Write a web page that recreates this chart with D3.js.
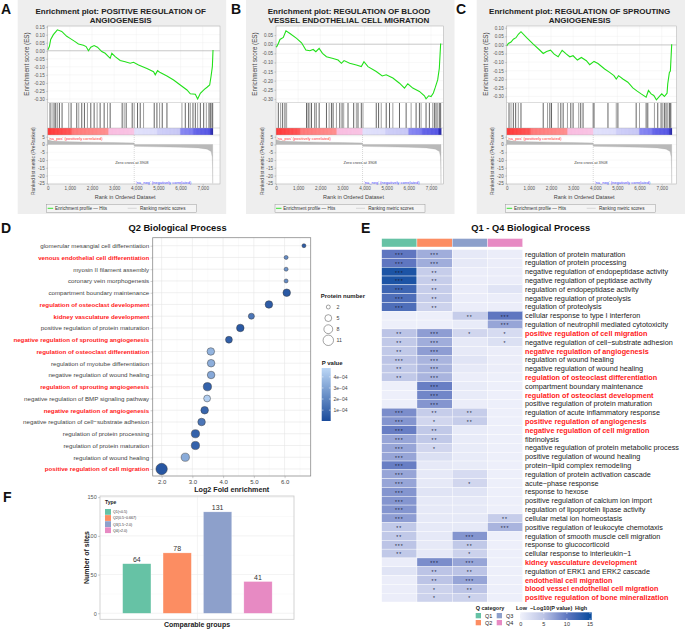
<!DOCTYPE html>
<html>
<head>
<meta charset="utf-8">
<script src="https://cdn.jsdelivr.net/npm/d3@7"></script>
<style>
  body { margin: 0; background: #fff; }
  svg { display: block; font-family: "Liberation Sans", Arial, sans-serif; }
</style>
</head>
<body>
<div id="app"></div>
<script>
// ---------- GSEA data (A, B, C) ----------
const gseaTitles = [
  ['Enrichment plot: POSITIVE REGULATION OF', 'ANGIOGENESIS'],
  ['Enrichment plot: REGULATION OF BLOOD', 'VESSEL ENDOTHELIAL CELL MIGRATION'],
  ['Enrichment plot: REGULATION OF SPROUTING', 'ANGIOGENESIS']
];
const rankTicks = [0, 1000, 2000, 3000, 4000, 5000, 6000, 7000];
const metricTicks = [5, 0, -5, -10, -15, -20, -25];
const esTicksA = [0.15, 0.10, 0.05, 0.00, -0.05, -0.10, -0.15, -0.20, -0.25, -0.30];
const esTicksB = [0.05, 0.00, -0.05, -0.10, -0.15, -0.20, -0.25, -0.30];
const esTicksC = [0.10, 0.05, 0.00, -0.05, -0.10, -0.15, -0.20, -0.25, -0.30];

// running enrichment score, [rank, ES]
const esCurveA = [[0,0.005],[75,0.026],[136,0.07],[256,0.10],[437,0.13],[633,0.12],[860,0.09],[1010,0.077],
  [1237,0.057],[1388,0.042],[1614,0.034],[1735,0.026],[1840,0.0],[1946,0.022],[2097,0.032],[2247,0.022],
  [2443,-0.005],[2594,-0.016],[2821,-0.047],[2896,-0.016],[3047,-0.037],[3273,-0.061],[3499,-0.068],
  [3725,-0.078],[3876,-0.072],[4103,-0.088],[4480,-0.11],[4781,-0.13],[4857,-0.15],[4962,-0.124],
  [5083,-0.136],[5385,-0.157],[5686,-0.182],[5988,-0.213],[6290,-0.244],[6440,-0.268],[6667,-0.271],
  [6772,-0.30],[6893,-0.265],[7074,-0.24],[7195,-0.227],[7315,-0.213],[7376,-0.16],[7436,-0.099],[7466,0.005]];
const esCurveB = [[0,-0.01],[30,-0.014],[105,0.004],[180,0.026],[330,0.037],[450,0.074],[630,0.059],[930,0.032],
  [1154,0.008],[1349,-0.032],[1529,-0.036],[1679,-0.029],[1800,-0.041],[1949,-0.023],[2099,-0.05],
  [2279,-0.069],[2579,-0.078],[2804,-0.087],[2954,-0.105],[3073,-0.09],[3328,-0.105],[3628,-0.114],
  [3853,-0.123],[3973,-0.096],[4153,-0.123],[4528,-0.15],[4798,-0.174],[4978,-0.168],[5277,-0.186],
  [5577,-0.214],[5802,-0.241],[5952,-0.217],[6177,-0.241],[6477,-0.259],[6702,-0.283],[6777,-0.30],
  [6897,-0.283],[7002,-0.287],[7107,-0.268],[7197,-0.236],[7301,-0.196],[7376,-0.132],[7436,0.004]];
const esCurveC = [[0,-0.006],[75,0.008],[195,0.017],[300,0.033],[420,0.042],[525,0.062],[645,0.077],[900,0.042],
  [1200,0.004],[1500,-0.031],[1650,-0.05],[1800,-0.038],[1980,-0.031],[2145,-0.054],[2324,-0.069],
  [2504,-0.031],[2699,-0.054],[2849,-0.069],[2999,-0.063],[3193,-0.088],[3373,-0.073],[3598,-0.092],
  [3748,-0.115],[3943,-0.096],[4123,-0.108],[4423,-0.14],[4648,-0.16],[4843,-0.179],[4948,-0.198],
  [5052,-0.179],[5247,-0.198],[5472,-0.217],[5697,-0.25],[5892,-0.269],[6072,-0.285],[6297,-0.304],
  [6402,-0.265],[6522,-0.285],[6642,-0.294],[6762,-0.319],[6897,-0.30],[7002,-0.285],[7122,-0.30],
  [7242,-0.281],[7272,-0.227],[7347,-0.16],[7392,-0.152],[7452,0.004]];

// gene-set hit ranks
const hitsA = [106,196,287,362,437,528,649,950,1056,1312,1403,1538,1659,1795,1946,2097,2232,2368,2549,2700,
  2821,3363,3454,3544,3816,3906,4057,4178,4329,4811,4932,5053,5173,5385,6063,6214,6365,6440,6561,6667,
  6772,6893,7044,7164,7285,7345,7406,7451];
const hitsB = [105,210,300,405,480,1379,1454,1529,1604,1754,1829,1949,2279,2399,2504,2579,2729,2879,2984,3058,
  3253,3508,3628,3703,3853,3928,4528,4633,4753,4978,5127,5277,5577,5877,6102,6327,6477,6552,6777,6927,
  7077,7152,7227,7301,7376,7436];
const hitsC = [105,195,300,405,525,645,1649,1844,1949,2024,2324,2444,2549,2744,2894,2999,3253,3343,3448,3898,
  3943,4573,4948,5022,5847,5997,6297,6372,6672,6822,6972,7046,7121,7196,7271,7346,7391,7421];

// ranked list metric (shared dataset)
const metricRanks = [0, 200, 1000, 2000, 3000, 3900, 3908, 3915, 5000, 6000, 6800, 7200, 7380, 7430, 7445, 7452];
const metricValues = [3.0, 2.2, 1.8, 1.5, 1.2, 1.0, 0, -1.2, -1.5, -1.8, -2.2, -3.0, -4.5, -8, -15, -25];
const zeroCross = 3908;

// heat band under hits
const bandRanks = [0, 1050, 1100, 2700, 2760, 3880, 3920, 4900, 4960, 5950, 6000, 6550, 6600, 7300, 7350, 7460];
const bandColors = ['#ff2020','#ff4040','#ff6666','#ff8080','#f8b4dc','#f8bce0','#dcdcfa','#d8d8fa',
  '#c8c8f6','#c0c0f5','#7a7af0','#6a6aee','#5252e6','#4040e0','#1a1ab8','#0a0a90'];

// ---------- Panel D data ----------
const dTerms = ['glomerular mesangial cell differentiation','venous endothelial cell differentiation',
  'myosin II filament assembly','coronary vein morphogenesis','compartment boundary maintenance',
  'regulation of osteoclast development','kidney vasculature development',
  'positive regulation of protein maturation','negative regulation of sprouting angiogenesis',
  'regulation of osteoclast differentiation','regulation of myotube differentiation',
  'negative regulation of wound healing','regulation of sprouting angiogenesis',
  'negative regulation of BMP signaling pathway','negative regulation of angiogenesis',
  'negative regulation of cell\u2212substrate adhesion','regulation of protein processing',
  'regulation of protein maturation','regulation of wound healing','positive regulation of cell migration'];
const dFold = [6.63,6.05,6.05,6.05,6.07,5.49,4.92,4.56,4.19,3.60,3.61,3.61,3.49,3.48,3.40,3.30,3.10,3.10,2.77,2.0];
const dCount = [2,2,2,2,6,6,4,6,5,6,6,6,7,5,6,6,7,7,7,13];
const dPval = [0.6e-4,2.2e-4,2.5e-4,2.2e-4,0.5e-4,0.6e-4,1.5e-4,0.5e-4,0.7e-4,3.6e-4,3.4e-4,3.2e-4,0.8e-4,
  4.5e-4,0.9e-4,1.5e-4,0.8e-4,0.8e-4,3.3e-4,0.4e-4];
const dHighlight = ['venous endothelial cell differentiation','regulation of osteoclast development',
  'kidney vasculature development','negative regulation of sprouting angiogenesis',
  'regulation of osteoclast differentiation','regulation of sprouting angiogenesis',
  'negative regulation of angiogenesis','positive regulation of cell migration'];
const sizeBreaks = [2, 5, 8, 11];
const pBreaks = [4e-4, 3e-4, 2e-4, 1e-4];

// ---------- Panel E data ----------
const qNames = ['Q1', 'Q2', 'Q3', 'Q4'];
const qColors = ['#66c2a5', '#fc8d62', '#8da0cb', '#e78ac3'];
const eTerms = ['regulation of protein maturation','regulation of protein processing',
  'negative regulation of endopeptidase activity','negative regulation of peptidase activity',
  'regulation of endopeptidase activity','negative regulation of proteolysis','regulation of proteolysis',
  'cellular response to type I interferon','regulation of neutrophil mediated cytotoxicity',
  'positive regulation of cell migration','negative regulation of cell\u2212substrate adhesion',
  'negative regulation of angiogenesis','regulation of wound healing','negative regulation of wound healing',
  'regulation of osteoclast differentiation','compartment boundary maintenance',
  'regulation of osteoclast development','positive regulation of protein maturation',
  'regulation of acute inflammatory response','positive regulation of angiogenesis',
  'negative regulation of cell migration','fibrinolysis','negative regulation of protein metabolic process',
  'positive regulation of wound healing','protein\u2212lipid complex remodeling',
  'regulation of protein activation cascade','acute\u2212phase response','response to hexose',
  'positive regulation of calcium ion import','regulation of lipoprotein lipase activity',
  'cellular metal ion homeostasis','positive regulation of leukocyte chemotaxis',
  'regulation of smooth muscle cell migration','response to glucocorticoid',
  'cellular response to interleukin\u22121','kidney vasculature development',
  'regulation of ERK1 and ERK2 cascade','endothelial cell migration',
  'blood vessel endothelial cell migration','positive regulation of bone mineralization'];
// -log10(P value) per Q category
const eQ1 = [10,10,14,14,12,11,11,0.3,0.3,5,4.5,4.5,5,4.5,4.5,0.3,0.3,0.3,8.5,8,9.5,7,7,7,9.5,7,7,8,8,8,7.5,4.5,4.5,5,4.5,0.5,1.5,0.5,0.5,0.5];
const eQ2 = [6.5,6.5,4,4,4,4,3.5,0.3,0.3,7.5,6.5,7.5,6,6,6,9.5,9,8,4,3,4.5,4.5,3,2,1,1,1,1.5,1,1,1,1,1,1,1,8.5,5,5,3.5,3.5];
const eQ3 = [1,1,0.5,0.5,0.5,0.5,0.5,4,0.8,3,1,1,1.5,1,0.5,0.8,0.8,0.5,4,4,0.8,0.8,0.8,0.8,0.8,2.5,3,1.5,1,1,1,1,8,4.5,3.5,7,5,7,5,3.5];
const eQ4 = [0.5,0.5,0.5,0.5,1.5,0.5,0.5,10,7,2.5,2,0.5,0.5,0.5,0.3,0.3,0.3,0.3,0.3,0.3,0.3,0.3,0.3,0.3,0.3,0.3,0.3,0.3,0.3,0.3,4,6,0.3,0.3,0.3,0.3,0.3,0.3,0.3,0.3];
const eStars = [
  ['***','***','',''],['***','***','',''],['***','**','',''],['***','**','',''],['***','**','',''],
  ['***','**','',''],['***','**','',''],['','','**','***'],['','','','***'],['**','***','*','*'],
  ['**','***','','*'],['**','***','',''],['***','***','',''],['**','***','',''],['**','***','',''],
  ['','***','',''],['','***','',''],['','***','',''],['***','**','**',''],['***','*','**',''],
  ['***','**','',''],['***','**','',''],['***','*','',''],['***','','',''],['***','','',''],
  ['***','','',''],['***','','*',''],['***','','',''],['***','','',''],['***','','',''],
  ['***','','','**'],['**','','','***'],['**','','***',''],['***','','**',''],['**','','*',''],
  ['','***','***',''],['','**','**',''],['','**','***',''],['','*','**',''],['','*','*','']];
const eHighlight = ['positive regulation of cell migration','negative regulation of angiogenesis',
  'regulation of osteoclast differentiation','regulation of osteoclast development',
  'positive regulation of angiogenesis','negative regulation of cell migration',
  'kidney vasculature development','endothelial cell migration',
  'blood vessel endothelial cell migration','positive regulation of bone mineralization'];
const eScaleTicks = [0, 5, 10, 15];

// ---------- Panel F data ----------
const fCounts = [64, 78, 131, 41];
const fTypeLabels = ['Q1(<0.5)', 'Q2(0.5~0.667)', 'Q3(1.5~2.0)', 'Q4(>2.0)'];
const fTicks = [0, 50, 100, 150];

// ================= drawing =================
const W = 685, H = 629;
const svg = d3.select('#app').append('svg').attr('width', W).attr('height', H);
svg.append('rect').attr('width', W).attr('height', H).attr('fill', '#fff');

function letter(t, x, y) {
  svg.append('text').attr('x', x).attr('y', y).attr('font-size', 14).attr('font-weight', 'bold')
    .attr('fill', '#111').text(t);
}
letter('A', 1, 13.5); letter('B', 231, 13.5); letter('C', 456, 13.5);
letter('D', 1, 232.5); letter('E', 361, 232.5); letter('F', 3, 501.5);

function styleAxis(g, size, color) {
  g.select('.domain').remove();
  g.selectAll('text').attr('font-size', size).attr('fill', color);
  g.selectAll('line').attr('stroke', '#888').attr('stroke-width', 0.4);
  g.attr('font-family', null);
}

// ---------- GSEA panels ----------
const gseaPanels = [
  { x0: 47.7, fw: 172.3, title: gseaTitles[0], es: [-0.322, 0.154], ticks: esTicksA, curve: esCurveA, hits: hitsA },
  { x0: 276, fw: 167.3, title: gseaTitles[1], es: [-0.32, 0.10], ticks: esTicksB, curve: esCurveB, hits: hitsB },
  { x0: 506.7, fw: 170, title: gseaTitles[2], es: [-0.335, 0.11], ticks: esTicksC, curve: esCurveC, hits: hitsC }
];
const T = 26, ESB = 102.5, HB = 128, BB = 135, MB = 184;

gseaPanels.forEach(p => {
  const g = svg.append('g');
  const L = p.x0;
  g.append('rect').attr('x', L - 30).attr('y', 0).attr('width', 208.5).attr('height', 214).attr('fill', '#eeeeee');
  p.title.forEach((t, i) => {
    g.append('text').attr('x', L + 73).attr('y', 14 + i * 9).attr('text-anchor', 'middle')
      .attr('font-size', 8).attr('font-weight', 'bold').attr('fill', '#222').text(t);
  });
  const x = d3.scaleLinear().domain([0, 7000]).range([L, L + 155]);
  const yEs = d3.scaleLinear().domain(p.es).range([ESB, T]);
  const yM = d3.scaleLinear().domain([-25.4, 6.1]).range([MB, BB]);

  g.append('rect').attr('x', L).attr('y', T).attr('width', p.fw).attr('height', MB - T).attr('fill', '#fff');
  // grid
  g.selectAll('.gx').data(rankTicks).join('line')
    .attr('x1', d => x(d)).attr('x2', d => x(d)).attr('y1', T).attr('y2', ESB)
    .attr('stroke', '#eeeeee').attr('stroke-width', 0.4);
  g.selectAll('.gy').data(p.ticks).join('line')
    .attr('x1', L).attr('x2', L + p.fw).attr('y1', d => yEs(d)).attr('y2', d => yEs(d))
    .attr('stroke', '#eeeeee').attr('stroke-width', 0.4);
  g.append('line').attr('x1', L).attr('x2', L + p.fw).attr('y1', yEs(0)).attr('y2', yEs(0))
    .attr('stroke', '#9a9a9a').attr('stroke-width', 0.5);

  // hits
  g.selectAll('.hit').data(p.hits).join('line')
    .attr('x1', d => x(d)).attr('x2', d => x(d)).attr('y1', ESB + 0.5).attr('y2', HB)
    .attr('stroke', (d, i) => i % 3 === 1 ? '#777' : '#222').attr('stroke-width', 0.7);

  // band
  const bandColor = d3.scaleLinear().domain(bandRanks).range(bandColors);
  const steps = d3.range(0, 7460, 20);
  g.selectAll('.band').data(steps).join('rect')
    .attr('x', d => x(d)).attr('y', HB).attr('width', x(20) - x(0) + 0.2).attr('height', BB - HB)
    .attr('fill', d => bandColor(d));

  // ES curve
  g.append('path').datum(p.curve)
    .attr('d', d3.line().x(d => x(d[0])).y(d => yEs(d[1])))
    .attr('fill', 'none').attr('stroke', '#22e01a').attr('stroke-width', 1.1);

  // metric
  g.selectAll('.mgy').data(metricTicks).join('line')
    .attr('x1', L).attr('x2', L + p.fw).attr('y1', d => yM(d)).attr('y2', d => yM(d))
    .attr('stroke', '#f0f0f0').attr('stroke-width', 0.4);
  const mdata = metricRanks.map((r, i) => [r, metricValues[i]]);
  g.append('path').datum(mdata)
    .attr('d', d3.area().x(d => x(d[0])).y0(yM(0)).y1(d => yM(d[1])))
    .attr('fill', '#b9b9b9').attr('stroke', '#aaa').attr('stroke-width', 0.3);
  g.append('line').attr('x1', x(zeroCross)).attr('x2', x(zeroCross)).attr('y1', BB).attr('y2', MB)
    .attr('stroke', '#999').attr('stroke-width', 0.4).attr('stroke-dasharray', '1,1');

  // frame separators
  [ESB, HB, BB].forEach(yy => g.append('line').attr('x1', L).attr('x2', L + p.fw)
    .attr('y1', yy).attr('y2', yy).attr('stroke', '#aaa').attr('stroke-width', 0.4));
  g.append('rect').attr('x', L).attr('y', T).attr('width', p.fw).attr('height', MB - T)
    .attr('fill', 'none').attr('stroke', '#aaa').attr('stroke-width', 0.5);

  // texts
  g.append('text').attr('x', L + 1).attr('y', 139.6).attr('font-size', 4).attr('fill', '#ff3030')
    .text("'na_pos' (positively correlated)");
  g.append('text').attr('x', x(zeroCross) + 1.5).attr('y', 184.3).attr('font-size', 4).attr('fill', '#4a4aff')
    .text("'na_neg' (negatively correlated)");
  g.append('text').attr('x', x(3800)).attr('y', 163.5).attr('text-anchor', 'middle').attr('font-size', 4)
    .attr('fill', '#444').text('Zero cross at ' + zeroCross);

  // axes
  const ay = g.append('g').attr('transform', `translate(${L},0)`)
    .call(d3.axisLeft(yEs).tickValues(p.ticks).tickSize(1.5).tickPadding(1.5)
      .tickFormat(v => (Math.abs(v) < 1e-9 ? 0 : v).toFixed(2)));
  styleAxis(ay, 4.6, '#555');
  const am = g.append('g').attr('transform', `translate(${L},0)`)
    .call(d3.axisLeft(yM).tickValues(metricTicks).tickSize(1.5).tickPadding(1.5));
  styleAxis(am, 4.6, '#555');
  am.selectAll('text').text(d => d);
  const ax = g.append('g').attr('transform', `translate(0,${MB})`)
    .call(d3.axisBottom(x).tickValues(rankTicks).tickSize(1.5).tickPadding(1.5).tickFormat(d3.format(',')));
  styleAxis(ax, 4.6, '#555');

  g.append('text').attr('transform', `translate(${L - 19},64) rotate(-90)`).attr('text-anchor', 'middle')
    .attr('font-size', 6.3).attr('fill', '#444').text('Enrichment score (ES)');
  g.append('text').attr('transform', `translate(${L - 12.5},161) rotate(-90)`).attr('text-anchor', 'middle')
    .attr('font-size', 4.9).attr('fill', '#444').text('Ranked list metric (PreRanked)');
  g.append('text').attr('x', L + 77.5).attr('y', 199).attr('text-anchor', 'middle')
    .attr('font-size', 5.5).attr('fill', '#444').text('Rank in Ordered Dataset');

  // legend
  const lg = g.append('g');
  lg.append('rect').attr('x', L - 1).attr('y', 204.3).attr('width', 150).attr('height', 8)
    .attr('fill', '#f4f4f4').attr('stroke', '#888').attr('stroke-width', 0.4);
  lg.append('line').attr('x1', L).attr('x2', L + 5.5).attr('y1', 208.3).attr('y2', 208.3)
    .attr('stroke', '#22e01a').attr('stroke-width', 0.9);
  lg.append('text').attr('x', L + 7.3).attr('y', 210).attr('font-size', 4.6).attr('fill', '#333')
    .text('Enrichment profile \u2014 Hits');
  lg.append('line').attr('x1', L + 80).attr('x2', L + 89).attr('y1', 208.3).attr('y2', 208.3)
    .attr('stroke', '#ccc').attr('stroke-width', 0.7);
  lg.append('text').attr('x', L + 92.3).attr('y', 210).attr('font-size', 4.6).attr('fill', '#333')
    .text('Ranking metric scores');
});

// ---------- Panel D ----------
(function () {
  const g = svg.append('g');
  const left = 152.7, right = 310.7, top = 237.7, bottom = 476;
  const x = d3.scaleLinear().domain([1.71, 6.85]).range([left, right]);
  const y = d3.scalePoint().domain(dTerms).range([245.7, 469]);
  const r = d3.scaleRadial().domain([2, 13]).range([2, 5.7]);
  const c = d3.scaleLinear().domain([0.02e-4, 4.8e-4]).range(['#1a4b9b', '#bcd7f6']);

  g.append('text').attr('x', 177.5).attr('y', 230.7).attr('text-anchor', 'middle')
    .attr('font-size', 9.3).attr('font-weight', 'bold').attr('fill', '#111').text('Q2 Biological Process');

  g.append('rect').attr('x', left).attr('y', top).attr('width', right - left).attr('height', bottom - top).attr('fill', '#fff');
  g.selectAll('.mi').data(d3.range(2.5, 6.6, 1)).join('line')
    .attr('x1', d => x(d)).attr('x2', d => x(d)).attr('y1', top).attr('y2', bottom)
    .attr('stroke', '#f2f2f2').attr('stroke-width', 0.4);
  g.selectAll('.ma').data([2, 3, 4, 5, 6]).join('line')
    .attr('x1', d => x(d)).attr('x2', d => x(d)).attr('y1', top).attr('y2', bottom)
    .attr('stroke', '#e6e6e6').attr('stroke-width', 0.6);
  g.selectAll('.hy').data(dTerms).join('line')
    .attr('x1', left).attr('x2', right).attr('y1', d => y(d)).attr('y2', d => y(d))
    .attr('stroke', '#e6e6e6').attr('stroke-width', 0.6);

  g.selectAll('.dot').data(dTerms).join('circle')
    .attr('cx', (d, i) => x(dFold[i])).attr('cy', d => y(d)).attr('r', (d, i) => r(dCount[i]))
    .attr('fill', (d, i) => c(dPval[i])).attr('stroke', '#333').attr('stroke-width', 0.45);

  g.append('rect').attr('x', left).attr('y', top).attr('width', right - left).attr('height', bottom - top)
    .attr('fill', 'none').attr('stroke', '#8c8c8c').attr('stroke-width', 0.8);

  const ay = g.append('g').attr('transform', `translate(${left},0)`)
    .call(d3.axisLeft(y).tickSize(2.2).tickPadding(1.3));
  styleAxis(ay, 6.2, '#444');
  ay.selectAll('text')
    .attr('fill', d => dHighlight.includes(d) ? '#ff2020' : '#444')
    .attr('font-weight', d => dHighlight.includes(d) ? 'bold' : null);
  const ax = g.append('g').attr('transform', `translate(0,${bottom})`)
    .call(d3.axisBottom(x).tickValues([2, 3, 4, 5, 6]).tickSize(2.2).tickPadding(1.5));
  styleAxis(ax, 6, '#444');
  g.append('text').attr('x', (left + right) / 2).attr('y', 491.8).attr('text-anchor', 'middle')
    .attr('font-size', 7.2).attr('font-weight', 'bold').attr('fill', '#222').text('Log2 Fold enrichment');

  // size legend
  g.append('text').attr('x', 320.7).attr('y', 297.8).attr('font-size', 6).attr('font-weight', 'bold')
    .attr('fill', '#222').text('Protein number');
  const ly = d3.scaleLinear().domain([2, 11]).range([307, 340.3]);
  sizeBreaks.forEach(s => {
    g.append('circle').attr('cx', 328.3).attr('cy', ly(s)).attr('r', r(s))
      .attr('fill', 'none').attr('stroke', '#333').attr('stroke-width', 0.45);
    g.append('text').attr('x', 336.5).attr('y', ly(s) + 1.9).attr('font-size', 5.3).attr('fill', '#444').text(s);
  });
  // colour legend
  g.append('text').attr('x', 321.7).attr('y', 365.3).attr('font-size', 6).attr('font-weight', 'bold')
    .attr('fill', '#222').text('P value');
  const cy = d3.scaleLinear().domain([0.02e-4, 4.8e-4]).range([421, 368]);
  const defs = svg.append('defs');
  const grad = defs.append('linearGradient').attr('id', 'pgrad').attr('x1', 0).attr('y1', 1).attr('x2', 0).attr('y2', 0);
  grad.append('stop').attr('offset', 0).attr('stop-color', c.range()[0]);
  grad.append('stop').attr('offset', 1).attr('stop-color', c.range()[1]);
  g.append('rect').attr('x', 321.7).attr('y', 368).attr('width', 9).attr('height', 53).attr('fill', 'url(#pgrad)');
  pBreaks.forEach(v => {
    g.append('line').attr('x1', 321.7).attr('x2', 323.5).attr('y1', cy(v)).attr('y2', cy(v)).attr('stroke', '#fff').attr('stroke-width', 0.5);
    g.append('line').attr('x1', 328.9).attr('x2', 330.7).attr('y1', cy(v)).attr('y2', cy(v)).attr('stroke', '#fff').attr('stroke-width', 0.5);
    g.append('text').attr('x', 333.5).attr('y', cy(v) + 1.8).attr('font-size', 5).attr('fill', '#444')
      .text(v.toExponential(0).replace('e-', 'e\u22120'));
  });
})();

// ---------- Panel E ----------
(function () {
  const g = svg.append('g');
  const x = d3.scaleBand().domain(qNames).range([381.7, 522.7]);
  const y = d3.scaleBand().domain(d3.range(eTerms.length)).range([249.6, 602]);
  const color = d3.scaleLinear().domain([0, 5, 10, 15]).range(['#f0f2fb', '#bcc4e6', '#5f76c0', '#0b4c9e']).clamp(true);
  const cols = [eQ1, eQ2, eQ3, eQ4];

  g.append('text').attr('x', 530.7).attr('y', 230.7).attr('text-anchor', 'middle')
    .attr('font-size', 9.3).attr('font-weight', 'bold').attr('fill', '#111').text('Q1 - Q4 Biological Process');

  g.selectAll('.hdr').data(qNames).join('rect')
    .attr('x', d => x(d)).attr('y', 238.5).attr('width', x.bandwidth()).attr('height', 8.5)
    .attr('fill', (d, i) => qColors[i]).attr('stroke', '#fff').attr('stroke-width', 0.4);

  qNames.forEach((q, j) => {
    g.selectAll('.c' + q).data(cols[j]).join('rect')
      .attr('x', x(q)).attr('y', (d, i) => y(i)).attr('width', x.bandwidth()).attr('height', y.bandwidth())
      .attr('fill', d => color(d)).attr('stroke', '#fff').attr('stroke-width', 0.4);
    g.selectAll('.s' + q).data(eStars).join('text')
      .attr('x', x(q) + x.bandwidth() / 2).attr('y', (d, i) => y(i) + y.bandwidth() / 2 + 2.9)
      .attr('text-anchor', 'middle').attr('font-size', 5).attr('letter-spacing', 1)
      .attr('fill', '#1a1a3a').text(d => d[j]);
  });

  g.selectAll('.lab').data(eTerms).join('text')
    .attr('x', 525).attr('y', (d, i) => y(i) + y.bandwidth() / 2 + 2.6)
    .attr('font-size', 7.25)
    .attr('fill', d => eHighlight.includes(d) ? '#ff1a1a' : '#222')
    .attr('font-weight', d => eHighlight.includes(d) ? 'bold' : null)
    .text(d => d);

  // legend
  g.append('text').attr('x', 475.7).attr('y', 609.5).attr('font-size', 5.5).attr('font-weight', 'bold')
    .attr('fill', '#222').text('Q category');
  qNames.forEach((q, i) => {
    const lx = 475.7 + Math.floor(i / 2) * 21, lyy = 613 + (i % 2) * 7;
    g.append('rect').attr('x', lx).attr('y', lyy).attr('width', 5.3).attr('height', 5.3).attr('fill', qColors[i]);
    g.append('text').attr('x', lx + 9.3).attr('y', lyy + 4.8).attr('font-size', 5.5).attr('fill', '#222').text(q);
  });
  [['Low', 516], ['\u2212Log10(P value)', 530], ['High', 575]].forEach(([t, tx]) => {
    g.append('text').attr('x', tx).attr('y', 609.5).attr('font-size', 5.5).attr('font-weight', 'bold')
      .attr('fill', '#222').text(t);
  });
  const sx = d3.scaleLinear().domain([0, 15]).range([520.7, 590]);
  const defs = svg.append('defs');
  const grad = defs.append('linearGradient').attr('id', 'egrad');
  d3.range(0, 15.31, 0.5).forEach(v => grad.append('stop').attr('offset', v / 15.3).attr('stop-color', color(v)));
  g.append('rect').attr('x', 520).attr('y', 612.3).attr('width', 71.7).attr('height', 7.7).attr('fill', 'url(#egrad)');
  eScaleTicks.forEach(v => {
    g.append('line').attr('x1', sx(v)).attr('x2', sx(v)).attr('y1', 612.3).attr('y2', 614).attr('stroke', '#fff').attr('stroke-width', 0.5);
    g.append('line').attr('x1', sx(v)).attr('x2', sx(v)).attr('y1', 618.3).attr('y2', 620).attr('stroke', '#fff').attr('stroke-width', 0.5);
    g.append('text').attr('x', sx(v)).attr('y', 626.3).attr('text-anchor', 'middle').attr('font-size', 5.5)
      .attr('fill', '#333').text(v);
  });
})();

// ---------- Panel F ----------
(function () {
  const g = svg.append('g');
  const left = 100, right = 294, top = 496, bottom = 619.3;
  const x = d3.scaleBand().domain(qNames).range([116.6, 278.2]).paddingInner(0.3).paddingOuter(0.15);
  const y = d3.scaleLinear().domain([-7.8, 151.5]).range([bottom, top]);

  g.append('rect').attr('x', left).attr('y', top).attr('width', right - left).attr('height', bottom - top).attr('fill', '#fff');
  g.selectAll('.mi').data([25, 75, 125]).join('line')
    .attr('x1', left).attr('x2', right).attr('y1', d => y(d)).attr('y2', d => y(d))
    .attr('stroke', '#f3f3f3').attr('stroke-width', 0.4);
  g.selectAll('.ma').data(fTicks).join('line')
    .attr('x1', left).attr('x2', right).attr('y1', d => y(d)).attr('y2', d => y(d))
    .attr('stroke', '#ebebeb').attr('stroke-width', 0.6);
  const mid = (x('Q2') + x.bandwidth() + x('Q3')) / 2;
  g.append('line').attr('x1', mid).attr('x2', mid).attr('y1', top).attr('y2', bottom)
    .attr('stroke', '#ebebeb').attr('stroke-width', 0.6);

  g.selectAll('.bar').data(fCounts).join('rect')
    .attr('x', (d, i) => x(qNames[i])).attr('y', d => y(d)).attr('width', x.bandwidth())
    .attr('height', d => y(0) - y(d)).attr('fill', (d, i) => qColors[i])
    .attr('stroke', '#fff').attr('stroke-opacity', 0.5).attr('stroke-width', 0.5);
  g.selectAll('.val').data(fCounts).join('text')
    .attr('x', (d, i) => x(qNames[i]) + x.bandwidth() / 2).attr('y', d => y(d) - 1.8)
    .attr('text-anchor', 'middle').attr('font-size', 7).attr('fill', '#333').text(d => d);

  g.append('rect').attr('x', left).attr('y', top).attr('width', right - left).attr('height', bottom - top)
    .attr('fill', 'none').attr('stroke', '#c8c8c8').attr('stroke-width', 0.8);

  const ay = g.append('g').attr('transform', `translate(${left},0)`)
    .call(d3.axisLeft(y).tickValues(fTicks).tickSize(2).tickPadding(1.3));
  styleAxis(ay, 5.5, '#555');

  g.append('text').attr('transform', `translate(88.5,${(top + bottom) / 2}) rotate(-90)`).attr('text-anchor', 'middle')
    .attr('font-size', 7).attr('font-weight', 'bold').attr('fill', '#222').text('Number of sites');
  g.append('text').attr('x', (left + right) / 2).attr('y', 627.3).attr('text-anchor', 'middle')
    .attr('font-size', 7).attr('font-weight', 'bold').attr('fill', '#222').text('Comparable groups');

  // legend
  g.append('text').attr('x', 105).attr('y', 504).attr('font-size', 5).attr('font-weight', 'bold')
    .attr('fill', '#222').text('Type');
  fTypeLabels.forEach((t, i) => {
    g.append('rect').attr('x', 105).attr('y', 509 + i * 6.1).attr('width', 6).attr('height', 5.8).attr('fill', qColors[i]);
    g.append('text').attr('x', 113).attr('y', 513.3 + i * 6.1).attr('font-size', 3.6).attr('fill', '#333').text(t);
  });
})();
</script>
</body>
</html>
